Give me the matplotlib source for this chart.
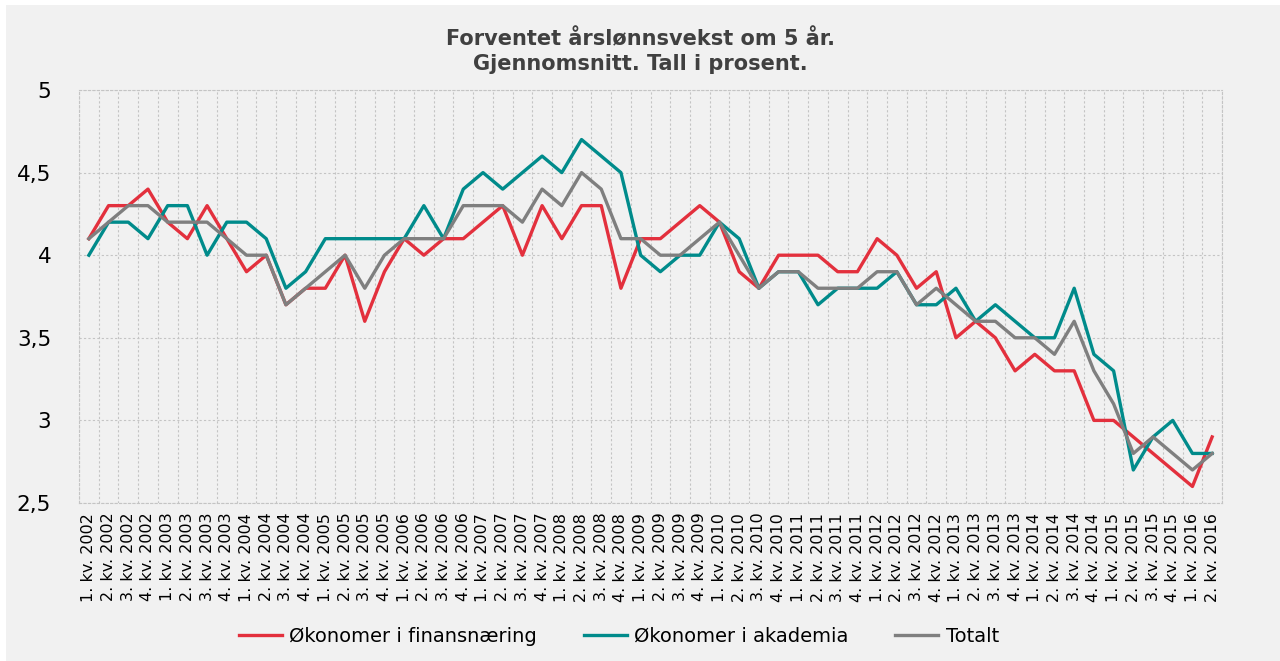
import matplotlib.pyplot as plt
import numpy as np
from matplotlib.ticker import FuncFormatter, MultipleLocator
from matplotlib.patches import Rectangle

# Quarters 1. kv. 2002 .. 2. kv. 2016
quarters = [f"{q}. kv. {y}" for y in range(2002, 2017) for q in range(1, 5)][:58]

finans = [4.1, 4.3, 4.3, 4.4, 4.2, 4.1, 4.3, 4.1, 3.9, 4.0,
          3.7, 3.8, 3.8, 4.0, 3.6, 3.9, 4.1, 4.0, 4.1, 4.1,
          4.2, 4.3, 4.0, 4.3, 4.1, 4.3, 4.3, 3.8, 4.1, 4.1,
          4.2, 4.3, 4.2, 3.9, 3.8, 4.0, 4.0, 4.0, 3.9, 3.9,
          4.1, 4.0, 3.8, 3.9, 3.5, 3.6, 3.5, 3.3, 3.4, 3.3,
          3.3, 3.0, 3.0, 2.9, 2.8, 2.7, 2.6, 2.9]

akademia = [4.0, 4.2, 4.2, 4.1, 4.3, 4.3, 4.0, 4.2, 4.2, 4.1,
            3.8, 3.9, 4.1, 4.1, 4.1, 4.1, 4.1, 4.3, 4.1, 4.4,
            4.5, 4.4, 4.5, 4.6, 4.5, 4.7, 4.6, 4.5, 4.0, 3.9,
            4.0, 4.0, 4.2, 4.1, 3.8, 3.9, 3.9, 3.7, 3.8, 3.8,
            3.8, 3.9, 3.7, 3.7, 3.8, 3.6, 3.7, 3.6, 3.5, 3.5,
            3.8, 3.4, 3.3, 2.7, 2.9, 3.0, 2.8, 2.8]

totalt = [4.1, 4.2, 4.3, 4.3, 4.2, 4.2, 4.2, 4.1, 4.0, 4.0,
          3.7, 3.8, 3.9, 4.0, 3.8, 4.0, 4.1, 4.1, 4.1, 4.3,
          4.3, 4.3, 4.2, 4.4, 4.3, 4.5, 4.4, 4.1, 4.1, 4.0,
          4.0, 4.1, 4.2, 4.0, 3.8, 3.9, 3.9, 3.8, 3.8, 3.8,
          3.9, 3.9, 3.7, 3.8, 3.7, 3.6, 3.6, 3.5, 3.5, 3.4,
          3.6, 3.3, 3.1, 2.8, 2.9, 2.8, 2.7, 2.8]

bg = "#f1f1f1"
fig = plt.figure(figsize=(12.8, 6.61), dpi=100)
fig.patch.set_facecolor("white")
fig.patches.append(Rectangle((6 / 1280, 0), 1, 1 - 5 / 661, transform=fig.transFigure,
                             facecolor=bg, edgecolor="none", zorder=-10))

ax = fig.add_axes([79 / 1280, 1 - 503 / 661, (1222 - 79) / 1280, (503 - 90) / 661])
ax.set_facecolor(bg)

x = np.arange(len(quarters))
ax.plot(x, finans, color="#e3303d", lw=2.4, label="Økonomer i finansnæring", zorder=3)
ax.plot(x, akademia, color="#008b8b", lw=2.4, label="Økonomer i akademia", zorder=3)
ax.plot(x, totalt, color="#7f7f7f", lw=2.4, label="Totalt", zorder=3)

ax.set_xlim(-0.5, len(quarters) - 0.5)
ax.set_ylim(2.5, 5)
ax.yaxis.set_major_locator(MultipleLocator(0.5))
ax.yaxis.set_major_formatter(FuncFormatter(lambda v, p: f"{v:g}".replace(".", ",")))
ax.set_xticks(x)
ax.set_xticklabels(quarters, rotation=90, fontsize=11.5)
ax.set_xticks(np.arange(-0.5, len(quarters), 1), minor=True)
ax.tick_params(axis="x", which="both", length=0, pad=7)
ax.tick_params(axis="y", length=0, pad=20, labelsize=15.5)

ax.grid(False)
ax.grid(True, axis="x", which="minor", color="#c4c4c4", ls=(0, (2, 2)), lw=0.8)
ax.grid(True, axis="y", which="major", color="#c4c4c4", ls=(0, (2, 2)), lw=0.8)
for s in ax.spines.values():
    s.set_color("#c4c4c4")
    s.set_linestyle((0, (2, 2)))
    s.set_linewidth(0.8)

fig.text(0.5, 1 - 51 / 661, "Forventet årslønnsvekst om 5 år.\nGjennomsnitt. Tall i prosent.",
         ha="center", va="center", fontsize=15, fontweight="bold", color="#404040",
         linespacing=1.3)

leg = fig.legend(loc="center", bbox_to_anchor=(619 / 1280, 1 - 636 / 661), ncol=3, frameon=False,
                 handlelength=2.2, columnspacing=2.4, handletextpad=0.4,
                 prop={"family": ["Liberation Sans Narrow", "DejaVu Sans"], "size": 14})

plt.savefig("out.png", dpi=100, facecolor=fig.get_facecolor())
